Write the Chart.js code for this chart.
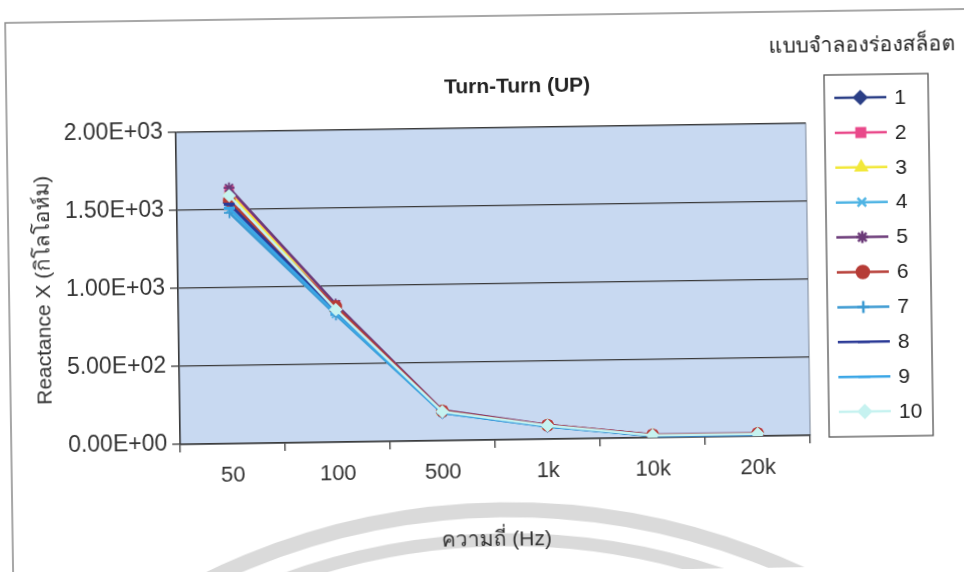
<!DOCTYPE html>
<html>
<head>
<meta charset="utf-8">
<script src="https://cdn.jsdelivr.net/npm/chart.js@4.4.1/dist/chart.umd.min.js"></script>
<style>
  html, body { margin: 0; padding: 0; background: #fff; overflow: hidden; }
  #wrap { width: 968px; height: 572px; transform: rotate(-0.83deg); transform-origin: 50% 50%; }
</style>
</head>
<body>
<div id="wrap"><canvas id="myChart" width="968" height="572"></canvas></div>
<script>
const frequencies = ['50', '100', '500', '1k', '10k', '20k'];
const yTicks = [0, 500, 1000, 1500, 2000];

// reactance per slot model (kilo-ohm)
const slot1 = [1545, 840, 182, 84, 14, 13];
const slot2 = [1625, 880, 192, 90, 18, 17];
const slot3 = [1610, 860, 188, 87, 16, 15];
const slot4 = [1500, 820, 178, 81, 12, 11];
const slot5 = [1640, 885, 195, 92, 20, 19];
const slot6 = [1560, 870, 190, 89, 17, 16];
const slot7 = [1480, 815, 177, 80, 12, 11];
const slot8 = [1535, 835, 181, 83, 13, 12];
const slot9 = [1510, 825, 179, 82, 13, 12];
const slot10 = [1590, 850, 186, 86, 15, 14];

const slotNames = ['1', '2', '3', '4', '5', '6', '7', '8', '9', '10'];
const slotData = [slot1, slot2, slot3, slot4, slot5, slot6, slot7, slot8, slot9, slot10];
const slotColors = ['#2b3f86', '#e9498a', '#f2e83a', '#4fb4e4', '#6b3a78',
                    '#b63c36', '#3c9ad2', '#2b3a96', '#3aa6e6', '#c6f2f0'];
const slotMarkers = ['rectRot', 'rect', 'triangle', 'crossRot', 'star',
                     'circle', 'cross', 'line', 'line', 'rectRot'];

const FONT = "'Liberation Sans', Arial, sans-serif";
const INK = '#3a3a3a';

const datasets = slotNames.map((name, i) => ({
  label: name,
  data: slotData[i],
  borderColor: slotColors[i],
  backgroundColor: slotColors[i],
  pointStyle: slotMarkers[i],
  pointRadius: 5.5,
  pointBorderWidth: (slotMarkers[i] === 'line') ? 3 : 1.8,
  borderWidth: 2.5,
  tension: 0,
  order: slotNames.length - i
}));

function sci(v) {
  if (v === 0) return '0.00E+00';
  const e = Math.floor(Math.log10(Math.abs(v)));
  const m = (v / Math.pow(10, e)).toFixed(2);
  return m + 'E' + (e < 0 ? '-' : '+') + String(Math.abs(e)).padStart(2, '0');
}

// page frame, faint watermark arcs and plot background
const pageBackdrop = {
  id: 'pageBackdrop',
  beforeDraw(chart) {
    const ctx = chart.ctx;
    const a = chart.chartArea;
    ctx.save();
    ctx.fillStyle = '#fff';
    ctx.fillRect(0, 0, chart.width, chart.height);

    ctx.strokeStyle = 'rgba(140,140,140,0.32)';
    ctx.lineWidth = 15;
    ctx.beginPath();
    ctx.arc(497, 1200, 690, 0, Math.PI * 2);
    ctx.stroke();
    ctx.lineWidth = 13;
    ctx.beginPath();
    ctx.arc(497, 1200, 660, 0, Math.PI * 2);
    ctx.stroke();

    ctx.strokeStyle = '#8a8a8a';
    ctx.lineWidth = 1.5;
    ctx.strokeRect(9, 16, chart.width + 20, chart.height + 20);

    ctx.fillStyle = '#c8d9f1';
    ctx.fillRect(a.left, a.top, a.right - a.left, a.bottom - a.top);
    ctx.strokeStyle = '#7d8798';
    ctx.lineWidth = 1;
    ctx.strokeRect(a.left, a.top, a.right - a.left, a.bottom - a.top);
    ctx.restore();
  }
};

// chart title, legend title and the boxed legend
const sideLegend = {
  id: 'sideLegend',
  afterDraw(chart) {
    const ctx = chart.ctx;
    ctx.save();
    ctx.fillStyle = '#222';
    ctx.textBaseline = 'middle';
    ctx.textAlign = 'center';
    ctx.font = 'bold 21px ' + FONT;
    ctx.fillText('Turn-Turn (UP)', 520, 87);

    ctx.font = '21px ' + FONT;
    ctx.fillText('แบบจำลองร่องสล็อต', 865, 51);

    const bx = 827, by = 80, bw = 104, bh = 362;
    ctx.fillStyle = '#fff';
    ctx.fillRect(bx, by, bw, bh);
    ctx.strokeStyle = '#555';
    ctx.lineWidth = 1.3;
    ctx.strokeRect(bx, by, bw, bh);

    const step = 34.9;
    chart.data.datasets.forEach((ds, i) => {
      const y = by + 23 + i * step;
      ctx.strokeStyle = ds.borderColor;
      ctx.lineWidth = 2.5;
      ctx.beginPath();
      ctx.moveTo(bx + 10, y);
      ctx.lineTo(bx + 62, y);
      ctx.stroke();
      ctx.fillStyle = ds.backgroundColor;
      Chart.helpers.drawPoint(ctx, {
        pointStyle: ds.pointStyle,
        radius: 6,
        rotation: 0,
        borderWidth: ds.pointBorderWidth
      }, bx + 36, y);
      ctx.fillStyle = '#222';
      ctx.textAlign = 'left';
      ctx.font = '21px ' + FONT;
      ctx.fillText(ds.label, bx + 70, y + 1);
    });
    ctx.restore();
  }
};

new Chart(document.getElementById('myChart'), {
  type: 'line',
  data: { labels: frequencies, datasets: datasets },
  plugins: [pageBackdrop, sideLegend],
  options: {
    responsive: false,
    animation: false,
    layout: { padding: { left: 0, top: 128, right: 160, bottom: 0 } },
    plugins: {
      legend: { display: false },
      title: { display: false },
      tooltip: { enabled: false }
    },
    scales: {
      x: {
        type: 'category',
        offset: true,
        grid: { display: true, drawOnChartArea: false, drawTicks: true, tickLength: 8, offset: true, color: INK, lineWidth: 1.3 },
        border: { color: INK, width: 1.5 },
        ticks: { color: '#333', padding: 11, font: { family: FONT, size: 22 } },
        title: { display: true, text: 'ความถี่ (Hz)', color: '#333', padding: { top: 0, bottom: 19 }, font: { family: FONT, size: 21 } },
        afterFit(scale) { scale.height = 132; }
      },
      y: {
        min: yTicks[0],
        max: yTicks[yTicks.length - 1],
        afterBuildTicks(scale) { scale.ticks = yTicks.map(v => ({ value: v })); },
        grid: { color: INK, lineWidth: 1.3, drawTicks: true, tickLength: 8 },
        border: { color: INK, width: 1.5 },
        ticks: { color: '#333', padding: 5, font: { family: FONT, size: 23 }, callback: v => sci(v) },
        title: { display: true, text: 'Reactance X (กิโลโอห์ม)', color: '#333', padding: { top: 32, bottom: 0 }, font: { family: FONT, size: 21 } },
        afterFit(scale) { scale.width = 178; }
      }
    }
  }
});
</script>
</body>
</html>
